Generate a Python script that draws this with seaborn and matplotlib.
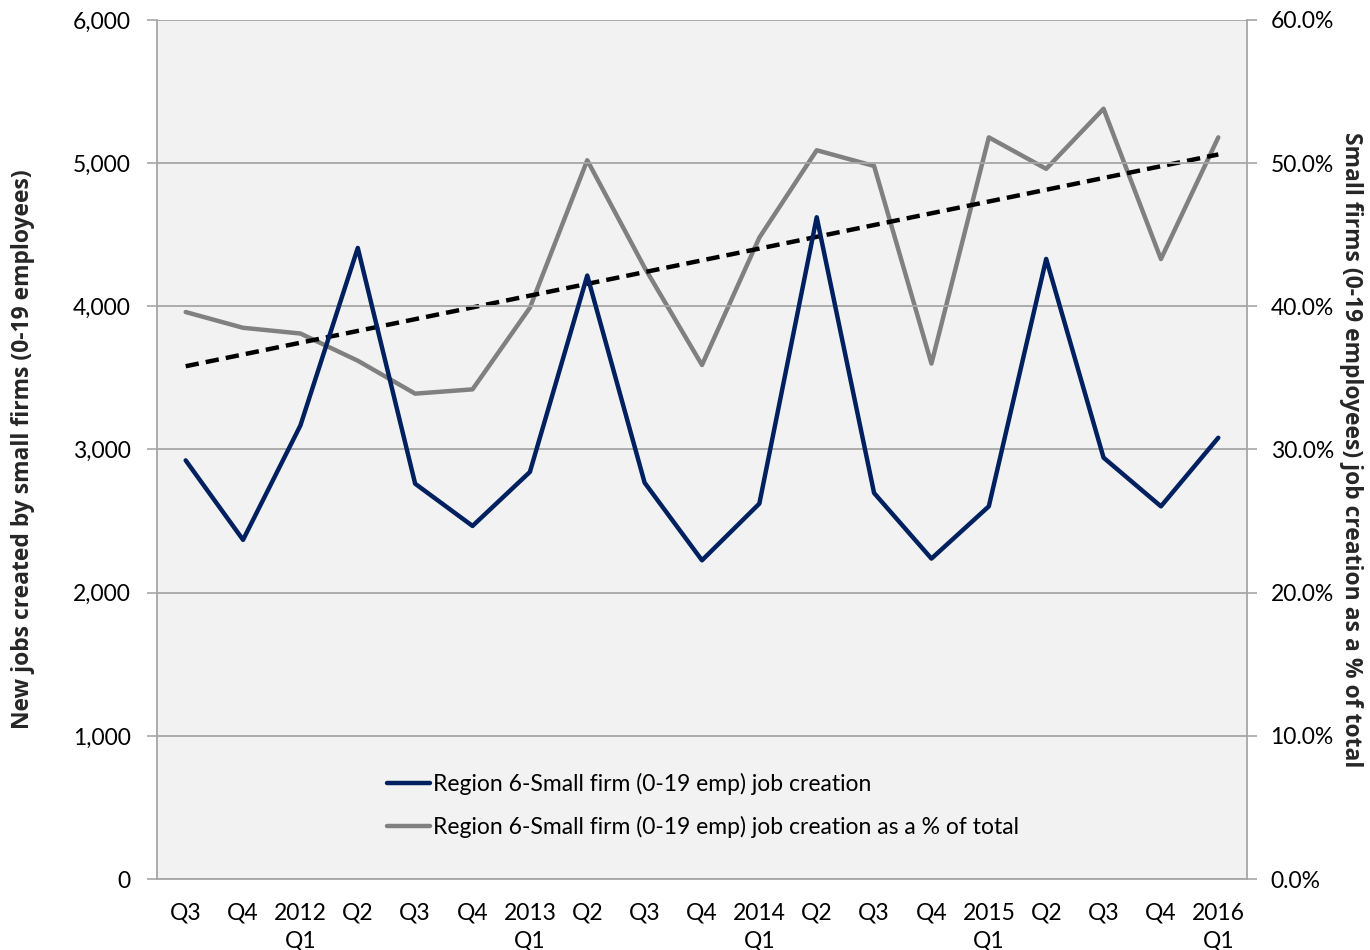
import numpy as np
import pandas as pd
import matplotlib
matplotlib.use("Agg")
import matplotlib.pyplot as plt
import matplotlib.ticker as mticker
from matplotlib.lines import Line2D
import seaborn as sns

# ---- data ----
quarters = ["Q3", "Q4", "2012\nQ1", "Q2", "Q3", "Q4", "2013\nQ1", "Q2", "Q3", "Q4",
            "2014\nQ1", "Q2", "Q3", "Q4", "2015\nQ1", "Q2", "Q3", "Q4", "2016\nQ1"]
jobs = [2924, 2369, 3168, 4408, 2761, 2466, 2843, 4215, 2768, 2226,
        2622, 4622, 2696, 2238, 2603, 4331, 2943, 2603, 3082]
share_pct = [39.6, 38.5, 38.1, 36.2, 33.9, 34.2, 39.9, 50.2, 42.7, 35.9,
             44.8, 50.9, 49.8, 36.0, 51.8, 49.6, 53.8, 43.3, 51.8]
left_ticks = [0, 1000, 2000, 3000, 4000, 5000, 6000]
right_ticks = [0, 10, 20, 30, 40, 50, 60]

label_jobs = "Region 6-Small firm (0-19 emp) job creation"
label_share = "Region 6-Small firm (0-19 emp) job creation as a % of total"
ylabel_left = "New jobs created by small firms (0-19 employees)"
ylabel_right = "Small firms (0-19 employees) job creation as a % of total"

sns.set_theme(style="white")
plt.rcParams['font.family'] = ['Lato', 'DejaVu Sans']
plt.rcParams['text.color'] = 'black'

x = np.arange(len(quarters))
df = pd.DataFrame({"x": x, "jobs": jobs, "share": share_pct})
coef = np.polyfit(x, np.array(share_pct), 1)
df["trend"] = np.polyval(coef, x)

fig = plt.figure(figsize=(13.7, 9.5), dpi=100)
ax = fig.add_axes([0.1146, 0.0747, 0.7956, 0.9043])
ax2 = ax.twinx()
ax.set_zorder(ax2.get_zorder() + 1)
ax.patch.set_visible(False)
ax2.patch.set_visible(True)
ax2.patch.set_facecolor("#F2F2F2")

grid_c = "#A6A6A6"
navy = "#002060"
gray = "#808080"

for v in left_ticks:
    ax.axhline(v, color=grid_c, lw=1.3, zorder=0)

sns.lineplot(data=df, x="x", y="share", ax=ax2, color=gray, lw=3.2, legend=False)
sns.lineplot(data=df, x="x", y="trend", ax=ax2, color="black", lw=3.2,
             linestyle=(0, (3, 1.6)), legend=False)
sns.lineplot(data=df, x="x", y="jobs", ax=ax, color=navy, lw=3.2, legend=False)

ax.set_xlim(-0.5, len(quarters) - 0.5)
ax.set_ylim(0, 6000)
ax2.set_ylim(0, 60)
ax.set_yticks(left_ticks)
ax2.set_yticks(right_ticks)
ax.yaxis.set_major_formatter(mticker.FuncFormatter(lambda v, p: f"{int(v):,}"))
ax2.yaxis.set_major_formatter(mticker.FuncFormatter(lambda v, p: f"{v:.1f}%"))

tick_fs = 16.5
ax.set_xticks(x)
ax.set_xticklabels(quarters, fontsize=tick_fs, color="black", linespacing=1.42)
ax.set_xticks(np.arange(-0.5, len(quarters), 1), minor=True)
ax.tick_params(axis="x", which="major", length=0, pad=17)
ax.tick_params(axis="x", which="minor", length=7, width=1.2, color=grid_c, direction="out")
ax.tick_params(axis="y", which="major", length=7, width=1.2, color=grid_c,
               direction="out", labelsize=tick_fs, labelcolor="black", pad=12)
ax2.tick_params(axis="y", which="major", length=7, width=1.2, color=grid_c,
                direction="out", labelsize=tick_fs, labelcolor="black", pad=10)
ax2.tick_params(axis="x", length=0)

for a in (ax, ax2):
    for s in a.spines.values():
        s.set_visible(False)
for a, side in ((ax, "left"), (ax, "bottom"), (ax2, "right")):
    a.spines[side].set_visible(True)
    a.spines[side].set_color(grid_c)
    a.spines[side].set_linewidth(1.3)

title_font = dict(fontsize=16.5, fontweight="bold", family=["Open Sans", "DejaVu Sans"])
ax.set_xlabel("")
ax.set_ylabel(ylabel_left, labelpad=27, **title_font)
ax2.set_xlabel("")
ax2.set_ylabel(ylabel_right, rotation=-90, labelpad=21, **title_font)

handles = [Line2D([0], [0], color=navy, lw=3.2), Line2D([0], [0], color=gray, lw=3.2)]
ax.legend(handles, [label_jobs, label_share], loc="upper left",
          bbox_to_anchor=(0.192, 0.148), frameon=False, fontsize=tick_fs,
          handlelength=1.9, handletextpad=0.1, labelspacing=0.95)

fig.savefig("out.png", dpi=100)
